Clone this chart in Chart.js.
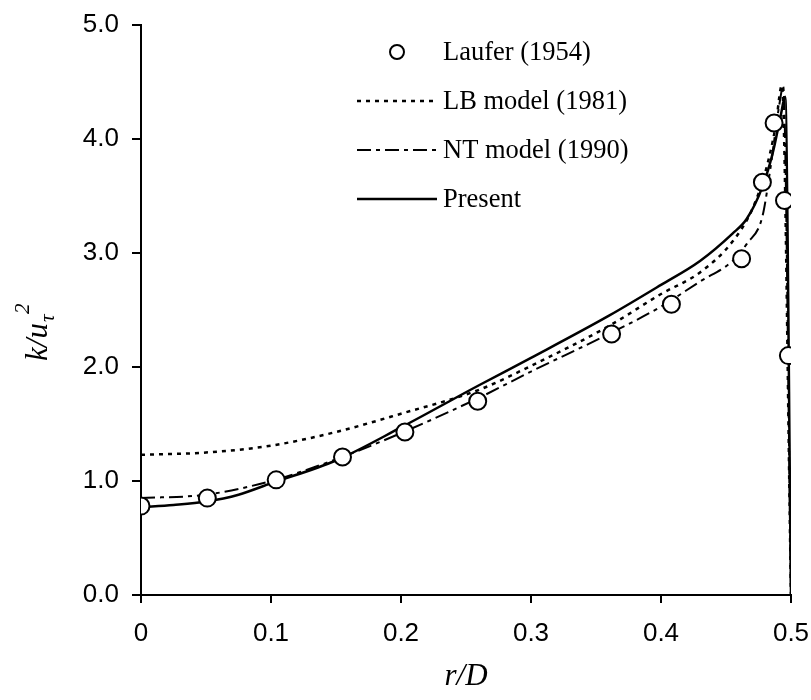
<!DOCTYPE html>
<html>
<head>
<meta charset="utf-8">
<script src="https://cdn.jsdelivr.net/npm/chart.js@4"></script>
<style>
  body { margin: 0; background: #fff; }
  #wrap { width: 811px; height: 700px; }
</style>
</head>
<body>
<div id="wrap"><canvas id="kChart" width="811" height="700"></canvas></div>
<script>
// Laufer (1954) measurements
const lauferR = [0, 0.051, 0.104, 0.155, 0.203, 0.259, 0.362, 0.408, 0.462, 0.478, 0.487, 0.495, 0.498];
const lauferK = [0.78, 0.85, 1.01, 1.21, 1.43, 1.70, 2.29, 2.55, 2.95, 3.62, 4.14, 3.46, 2.10];

// LB model (1981)
const lbR = [0, 0.05, 0.1, 0.15, 0.2, 0.26, 0.3, 0.36, 0.4, 0.43, 0.455, 0.47, 0.48, 0.488, 0.493, 0.5];
const lbK = [1.23, 1.25, 1.31, 1.43, 1.59, 1.80, 2.01, 2.36, 2.64, 2.83, 3.10, 3.38, 3.70, 4.10, 4.47, 0];

// NT model (1990)
const ntR = [0, 0.05, 0.1, 0.15, 0.2, 0.26, 0.3, 0.36, 0.4, 0.43, 0.455, 0.466, 0.478, 0.484, 0.491, 0.494, 0.5];
const ntK = [0.85, 0.88, 1.00, 1.19, 1.42, 1.73, 1.96, 2.29, 2.53, 2.75, 2.93, 3.08, 3.32, 3.73, 4.30, 4.46, 0];

// Present
const presentR = [0, 0.025, 0.05, 0.075, 0.1, 0.15, 0.2, 0.26, 0.3, 0.36, 0.4, 0.43, 0.455, 0.466, 0.478, 0.486, 0.492, 0.4955, 0.5];
const presentK = [0.77, 0.79, 0.82, 0.88, 0.98, 1.18, 1.47, 1.84, 2.08, 2.45, 2.72, 2.93, 3.17, 3.30, 3.58, 3.88, 4.20, 4.37, 0];

const seriesNames = ['Laufer (1954)', 'LB model (1981)', 'NT model (1990)', 'Present'];
const xTicks = [0, 0.1, 0.2, 0.3, 0.4, 0.5];
const yTicks = [0, 1, 2, 3, 4, 5];

function toPoints(xs, ys) {
  return xs.map((x, i) => ({ x: x, y: ys[i] }));
}

// legend drawn by hand: line sample on the left, serif text on the right
const legendPlugin = {
  id: 'sideLegend',
  afterDraw(chart) {
    const ctx = chart.ctx;
    ctx.save();
    chart.data.datasets.forEach((ds, i) => {
      const y = 52 + i * 49;
      ctx.strokeStyle = '#000';
      ctx.lineWidth = 2;
      if (ds.showLine) {
        ctx.setLineDash(ds.borderDash || []);
        ctx.lineWidth = ds.borderWidth;
        ctx.beginPath();
        ctx.moveTo(357, y);
        ctx.lineTo(437, y);
        ctx.stroke();
        ctx.setLineDash([]);
      } else {
        ctx.fillStyle = '#fff';
        ctx.beginPath();
        ctx.arc(397, y, 7, 0, Math.PI * 2);
        ctx.fill();
        ctx.stroke();
      }
      ctx.fillStyle = '#000';
      ctx.font = '26.5px "Liberation Serif", "Times New Roman", serif';
      ctx.textBaseline = 'middle';
      ctx.textAlign = 'left';
      ctx.fillText(ds.label, 443, y + 1);
    });
    ctx.restore();
  }
};

// y title k/u_tau^2, rotated
const yTitlePlugin = {
  id: 'yTitle',
  afterDraw(chart) {
    const ctx = chart.ctx;
    ctx.save();
    ctx.translate(37, 332);
    ctx.rotate(-Math.PI / 2);
    ctx.fillStyle = '#000';
    ctx.textBaseline = 'alphabetic';
    ctx.textAlign = 'left';
    const mainFont = 'italic 31px "Liberation Serif", "Times New Roman", serif';
    const smallFont = 'italic 21px "Liberation Serif", "Times New Roman", serif';
    ctx.font = mainFont;
    const w1 = ctx.measureText('k/u').width;
    const total = w1 + 20;
    const x0 = -total / 2;
    ctx.fillText('k/u', x0, 10);
    ctx.font = smallFont;
    ctx.fillText('\u03C4', x0 + w1 + 1, 17);
    ctx.fillText('2', x0 + w1 + 9, -8);
    ctx.restore();
  }
};

const axisFont = { family: '"Liberation Sans", Arial, sans-serif', size: 26 };

const ctx = document.getElementById('kChart').getContext('2d');
const chart = new Chart(ctx, {
  type: 'scatter',
  data: {
    datasets: [
      {
        label: seriesNames[0],
        data: toPoints(lauferR, lauferK),
        showLine: false,
        pointRadius: 8.5,
        pointBackgroundColor: '#fff',
        pointBorderColor: '#000',
        pointBorderWidth: 2,
        order: 0,
      },
      {
        label: seriesNames[1],
        data: toPoints(lbR, lbK),
        showLine: true,
        borderColor: '#000',
        borderWidth: 2.5,
        borderDash: [4, 5],
        pointRadius: 0,
        cubicInterpolationMode: 'monotone',
        order: 3,
      },
      {
        label: seriesNames[2],
        data: toPoints(ntR, ntK),
        showLine: true,
        borderColor: '#000',
        borderWidth: 2,
        borderDash: [14, 5, 4, 5],
        pointRadius: 0,
        cubicInterpolationMode: 'monotone',
        order: 2,
      },
      {
        label: seriesNames[3],
        data: toPoints(presentR, presentK),
        showLine: true,
        borderColor: '#000',
        borderWidth: 2.5,
        pointRadius: 0,
        cubicInterpolationMode: 'monotone',
        order: 1,
      },
    ],
  },
  options: {
    responsive: false,
    animation: false,
    layout: { padding: { left: 0, right: 20, top: 25, bottom: 0 } },
    plugins: {
      legend: { display: false },
      tooltip: { enabled: false },
    },
    scales: {
      x: {
        type: 'linear',
        min: 0,
        max: 0.5,
        afterBuildTicks: (scale) => { scale.ticks = xTicks.map(v => ({ value: v })); },
        afterFit: (scale) => {
          scale.height = 105;
          scale.paddingLeft = 0;
          scale.paddingRight = 0;
        },
        ticks: {
          color: '#000',
          font: axisFont,
          padding: 15,
          maxRotation: 0,
          callback: (v) => v === 0 ? '0' : v.toFixed(1),
        },
        grid: { drawOnChartArea: false, color: '#000', lineWidth: 2, tickLength: 8 },
        border: { color: '#000', width: 2 },
        title: {
          display: true,
          text: 'r/D',
          color: '#000',
          font: { family: '"Liberation Serif", "Times New Roman", serif', size: 31, style: 'italic' },
          padding: { top: 0, bottom: 5 },
        },
      },
      y: {
        type: 'linear',
        min: 0,
        max: 5,
        afterBuildTicks: (scale) => { scale.ticks = yTicks.map(v => ({ value: v })); },
        afterFit: (scale) => {
          scale.width = 141;
          scale.paddingTop = 0;
          scale.paddingBottom = 0;
        },
        ticks: {
          color: '#000',
          font: axisFont,
          padding: 13,
          callback: (v) => v.toFixed(1),
        },
        grid: { drawOnChartArea: false, color: '#000', lineWidth: 2, tickLength: 9 },
        border: { color: '#000', width: 2 },
      },
    },
  },
  plugins: [legendPlugin, yTitlePlugin],
});
</script>
</body>
</html>
